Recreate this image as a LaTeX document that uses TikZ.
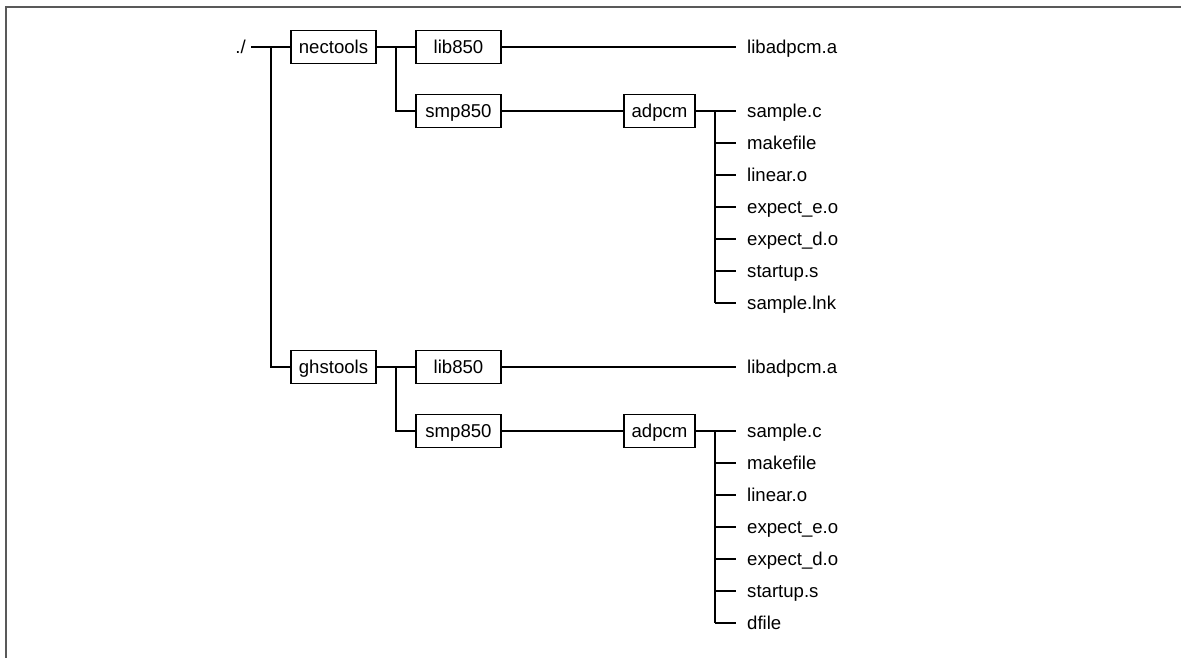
\documentclass[tikz,border=0pt]{standalone}
\usepackage{fontspec}
\setmainfont{Liberation Sans}
\begin{document}
\begin{tikzpicture}[x=1pt,y=-1pt,
  txtfont/.style={font=\fontsize{18.6}{22}\selectfont},
  box/.style={draw,line width=1.6pt,minimum width=85pt,minimum height=33pt,inner sep=0pt,
              text height=13.3pt,text depth=0pt,txtfont},
  lbl/.style={inner sep=0pt,text height=13.3pt,text depth=0pt,anchor=west,txtfont},
  wire/.style={line width=1.6pt},
  frame/.style={line width=1.5pt,draw=black!65}]
\useasboundingbox (0,0) rectangle (1181,657);
\draw[frame] (6,660) -- (6,7) -- (1184,7);

\node[lbl,anchor=east] (root) at (246,47) {./};
\coordinate (trunk) at (271,47);

\foreach \oy/\s/\t/\last in {0/n/nectools/sample.lnk, 320/g/ghstools/dfile}{
  \node[box] (\s-tools) at (333.5,{47+\oy}) {\t};
  \node[box] (\s-lib) at (458.5,{47+\oy}) {lib850};
  \node[box] (\s-smp) at (458.5,{111+\oy}) {smp850};
  \node[box,minimum width=71pt] (\s-adp) at (659.5,{111+\oy}) {adpcm};
  \node[lbl] (\s-liba) at (747,{47+\oy}) {libadpcm.a};
  \coordinate (\s-j) at (396,{47+\oy});
  \coordinate (\s-fork) at (715,{111+\oy});
  \draw[wire] (\s-tools.east) -- (\s-lib.west);
  \draw[wire] (\s-j) |- (\s-smp.west);
  \draw[wire] (\s-lib.east) -- ([xshift=-11pt]\s-liba.west);
  \draw[wire] (\s-smp.east) -- (\s-adp.west);
  \foreach \f [count=\k from 0] in {sample.c,makefile,linear.o,expect\_e.o,expect\_d.o,startup.s,\last}{
    \node[lbl] (\s-f\k) at (747,{111+32*\k+\oy}) {\f};
    \draw[wire] (\s-fork |- \s-f\k.west) -- ([xshift=-11pt]\s-f\k.west);
  }
  \draw[wire] (\s-adp.east) -- (\s-fork);
  \draw[wire] (\s-fork) -- (\s-fork |- \s-f6.west);
}
\draw[wire] ([xshift=5pt]root.east) -- (n-tools.west);
\draw[wire] (trunk) |- (g-tools.west);
\end{tikzpicture}
\end{document}
